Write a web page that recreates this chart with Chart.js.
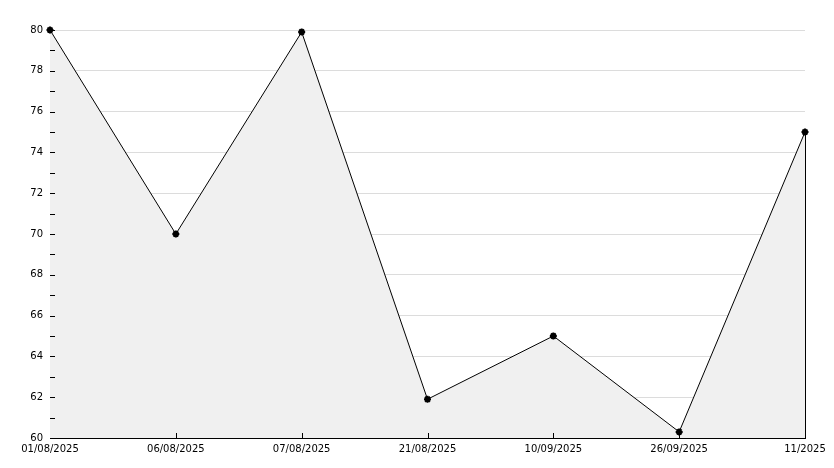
<!DOCTYPE html>
<html>
<head>
<meta charset="utf-8">
<script src="https://cdn.jsdelivr.net/npm/chart.js@4.4.1/dist/chart.umd.min.js"></script>
<style>
  html, body { margin: 0; padding: 0; background: #fff; }
  canvas { display: block; }
</style>
</head>
<body>
<canvas id="chart" width="834" height="468"></canvas>
<script>
// data
const dates = ['01/08/2025', '06/08/2025', '07/08/2025', '21/08/2025', '10/09/2025', '26/09/2025', '11/2025'];
const values = [80, 70, 79.9, 61.9, 65, 60.3, 75];
const yMin = 60;
const yMax = 80;

// small tick marks drawn inside the plot, plus the closing edge of the area
const innerTicks = {
    id: 'innerTicks',
    afterDatasetsDraw(chart) {
        const ctx = chart.ctx;
        const area = chart.chartArea;
        const x = chart.scales.x;
        const y = chart.scales.y;
        ctx.save();
        ctx.strokeStyle = '#000';
        ctx.lineWidth = 1;
        ctx.beginPath();
        for (let v = yMin + 1; v <= yMax; v++) {
            const py = Math.round(y.getPixelForValue(v)) + 0.5;
            ctx.moveTo(area.left, py);
            ctx.lineTo(area.left + 5, py);
        }
        for (let i = 1; i < dates.length; i++) {
            const px = Math.round(x.getPixelForValue(i)) + 0.5;
            ctx.moveTo(px, area.bottom);
            ctx.lineTo(px, area.bottom - 5);
        }
        // right edge of the filled area
        const last = dates.length - 1;
        const lx = Math.round(x.getPixelForValue(last)) + 0.5;
        ctx.moveTo(lx, y.getPixelForValue(values[last]));
        ctx.lineTo(lx, area.bottom);
        ctx.stroke();
        ctx.restore();
    }
};

const chart = new Chart(document.getElementById('chart'), {
    type: 'line',
    data: {
        labels: dates,
        datasets: [{
            data: values,
            borderColor: '#000',
            borderWidth: 1,
            backgroundColor: '#f0f0f0',
            fill: 'start',
            tension: 0,
            pointStyle: 'star',
            pointRadius: 3.5,
            pointBorderWidth: 2,
            pointBorderColor: '#000',
            pointBackgroundColor: '#000',
            clip: false
        }]
    },
    options: {
        responsive: false,
        animation: false,
        devicePixelRatio: 1,
        layout: { padding: { top: 30, right: 29, left: 0, bottom: 0 } },
        plugins: {
            legend: { display: false },
            tooltip: { enabled: false }
        },
        scales: {
            x: {
                offset: false,
                grid: { display: false, drawTicks: false },
                border: { color: '#000', width: 1 },
                ticks: {
                    color: '#000',
                    font: { family: 'DejaVu Sans', size: 10 },
                    padding: 5,
                    maxRotation: 0,
                    autoSkip: false
                },
                afterFit(scale) { scale.height = 30; }
            },
            y: {
                min: yMin,
                max: yMax,
                grid: {
                    drawTicks: false,
                    color: (c) => (c.tick && c.tick.value % 2 === 0 && c.tick.value !== yMin) ? '#dcdcdc' : 'rgba(0,0,0,0)',
                    lineWidth: 1
                },
                border: { color: '#000', width: 1 },
                ticks: {
                    stepSize: 1,
                    autoSkip: false,
                    color: '#000',
                    font: { family: 'DejaVu Sans', size: 10 },
                    padding: 7,
                    callback: (v) => (v % 2 === 0 ? v : '')
                },
                afterFit(scale) { scale.width = 50; }
            }
        }
    },
    plugins: [innerTicks]
});
</script>
</body>
</html>
